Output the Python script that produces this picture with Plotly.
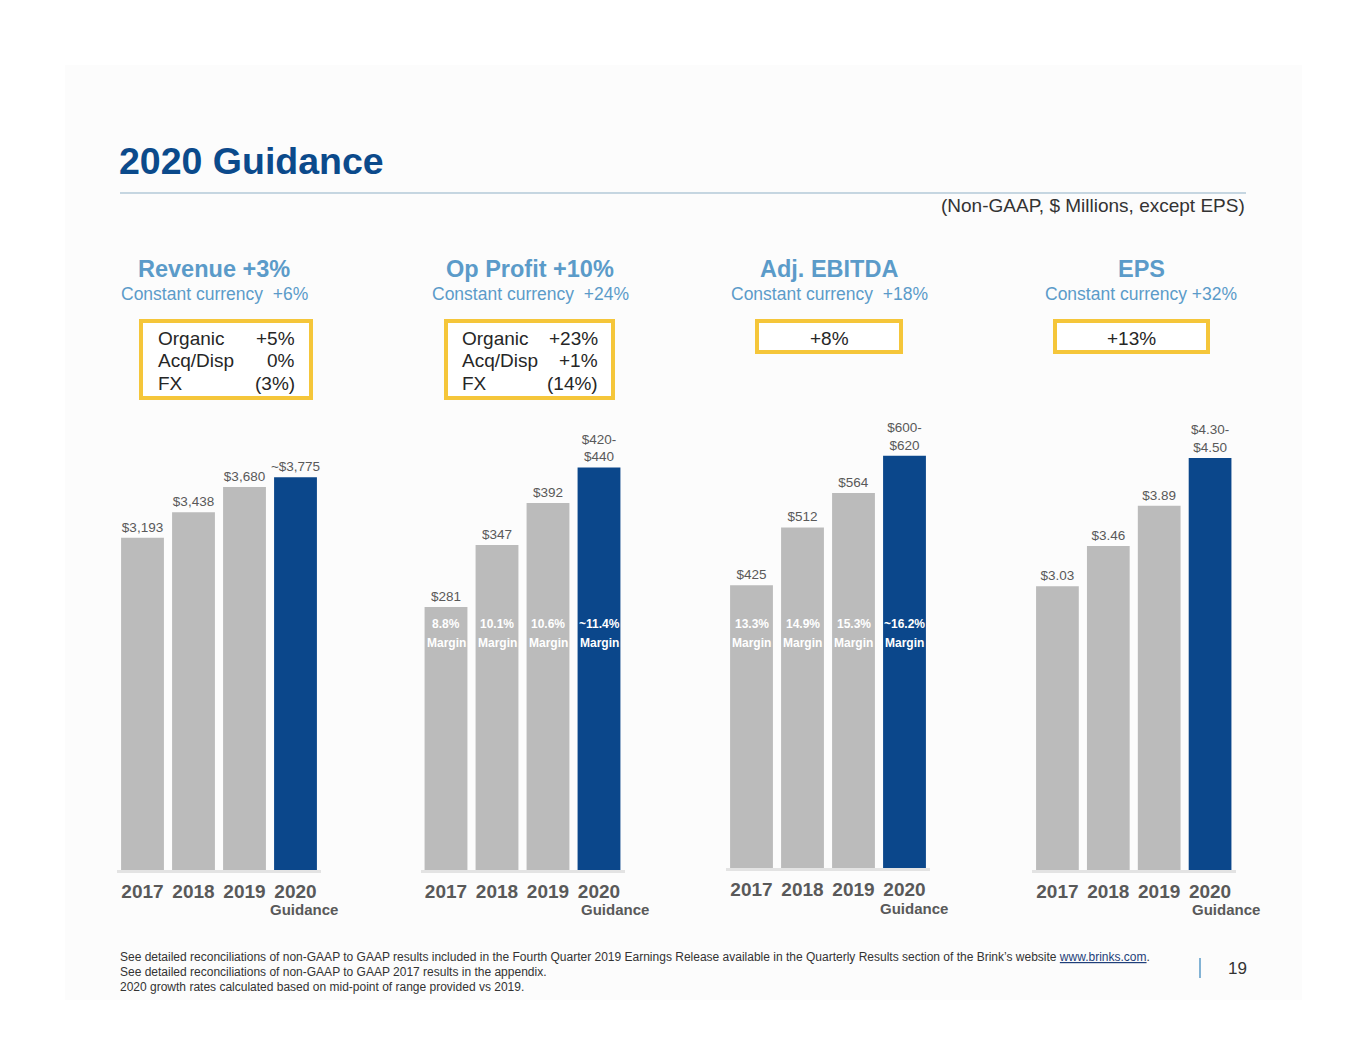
import plotly.graph_objects as go

W, H = 1365, 1055

years = ["2017", "2018", "2019", "2020"]
revenue = [3193, 3438, 3680, 3775]
revenue_labels = ["$3,193", "$3,438", "$3,680", "~$3,775"]
op_profit = [281, 347, 392, 430]
op_profit_labels = ["$281", "$347", "$392", "$420-<br>$440"]
op_margins = ["8.8%", "10.1%", "10.6%", "~11.4%"]
ebitda = [425, 512, 564, 620]
ebitda_labels = ["$425", "$512", "$564", "$600-<br>$620"]
ebitda_margins = ["13.3%", "14.9%", "15.3%", "~16.2%"]
eps = [3.03, 3.46, 3.89, 4.40]
eps_labels = ["$3.03", "$3.46", "$3.89", "$4.30-<br>$4.50"]

headers = ["Revenue +3%", "Op Profit +10%", "Adj. EBITDA", "EPS"]
subheads = ["Constant currency  +6%", "Constant currency  +24%",
            "Constant currency  +18%", "Constant currency +32%"]
rev_bridge = [("Organic", "+5%"), ("Acq/Disp", "0%"), ("FX", "(3%)")]
op_bridge = [("Organic", "+23%"), ("Acq/Disp", "+1%"), ("FX", "(14%)")]
ebitda_growth = "+8%"
eps_growth = "+13%"

GREY = "#bbbbbb"
BLUE = "#0b478b"
LIGHTBLUE = "#5b9bc9"
YELLOW = "#f5c63a"
FONT = "Arial, Liberation Sans, sans-serif"

OFF = 8  # the page body margin shifts everything by this much


def px(x):
    return (x - OFF) / W


def py(y):
    return 1 - (y - OFF) / H


# panel layout: (x0, x1, bottom, y range max)
panels = [
    (117, 321, 870, 4325),
    (420.5, 624.5, 870, 480.6),
    (726, 930, 868, 673.6),
    (1032, 1235.5, 870, 4.806),
]
series = [(revenue, revenue_labels), (op_profit, op_profit_labels),
          (ebitda, ebitda_labels), (eps, eps_labels)]
centers = [214, 530, 829, 1141]

fig = go.Figure()
layout = {}
for i, ((vals, labels), (x0, x1, bot, ymax)) in enumerate(zip(series, panels)):
    n = "" if i == 0 else str(i + 1)
    colors = [GREY, GREY, GREY, BLUE]
    fig.add_trace(go.Bar(
        x=years, y=vals, text=labels, textposition="outside",
        constraintext="none", cliponaxis=False,
        textfont=dict(size=13.5, color="#595959", family=FONT),
        marker=dict(color=colors, line_width=0),
        xaxis="x" + n, yaxis="y" + n, hoverinfo="skip", showlegend=False,
    ))
    layout["xaxis" + n] = dict(
        type="category", range=[-0.5, 3.5], automargin=False,
        domain=[px(x0), px(x1)], anchor="y" + n, showgrid=False,
        showline=True, linecolor="#e3e3e3", linewidth=3,
        ticks="outside", ticklen=2, tickcolor="rgba(0,0,0,0)",
        tickfont=dict(size=19, color="#595959", family=FONT),
        tickprefix="<b>", ticksuffix="</b>", fixedrange=True,
    )
    layout["yaxis" + n] = dict(
        domain=[py(bot), py(420)], anchor="x" + n, range=[0, ymax],
        visible=False, fixedrange=True, automargin=False,
    )

fig.update_layout(
    **layout,
    width=W, height=H,
    margin=dict(l=0, r=0, t=0, b=0, autoexpand=False),
    paper_bgcolor="white", plot_bgcolor="rgba(0,0,0,0)",
    bargap=0.16, font=dict(family=FONT, color="#333333"),
)

shapes = [
    dict(type="rect", xref="paper", yref="paper", x0=px(65), x1=px(1302),
         y0=py(1000), y1=py(65), fillcolor="#fcfcfc", line_width=0, layer="below"),
    dict(type="line", xref="paper", yref="paper", x0=px(120), x1=px(1246),
         y0=py(193), y1=py(193), line=dict(color="#8fb0c6", width=1)),
    dict(type="line", xref="paper", yref="paper", x0=px(1200), x1=px(1200),
         y0=py(958), y1=py(978), line=dict(color=LIGHTBLUE, width=1.5)),
]
# yellow boxes
for bx0, bx1, by0, by1 in [(141, 311, 321, 398), (446, 613, 321, 398),
                           (757, 901, 321, 352), (1055, 1208, 321, 352)]:
    shapes.append(dict(type="rect", xref="paper", yref="paper",
                       x0=px(bx0), x1=px(bx1), y0=py(by1), y1=py(by0),
                       fillcolor="white", line=dict(color=YELLOW, width=4)))
fig.update_layout(shapes=shapes)

ann = []


def text(x, y, s, size, color="#333333", xanchor="center", bold=False):
    ann.append(dict(x=px(x), y=py(y), xref="paper", yref="paper",
                    text=("<b>%s</b>" % s) if bold else s, showarrow=False,
                    xanchor=xanchor, yanchor="middle",
                    font=dict(size=size, color=color, family=FONT)))


text(117, 161, "2020 Guidance", 37.5, "#0b4a8b", "left", True)
text(1247, 206, "(Non-GAAP, $ Millions, except EPS)", 19, "#333333", "right")

for c, h, s in zip(centers, headers, subheads):
    text(c, 269, h, 23.5, LIGHTBLUE, bold=True)
    text(c, 294, s, 17.5, LIGHTBLUE)

for (lx, rx), bridge in [((156, 297), rev_bridge), ((460, 600), op_bridge)]:
    for k, (lab, val) in enumerate(bridge):
        yy = 338 + k * 22.5
        text(lx, yy, lab, 19, "#262626", "left")
        text(rx, yy, val, 19, "#262626", "right")
text(829, 338, ebitda_growth, 19, "#262626")
text(1131, 338, eps_growth, 19, "#262626")

# margin labels inside bars (x given as category index)
for n, margins in [("2", op_margins), ("3", ebitda_margins)]:
    for k, m in enumerate(margins):
        for yy, s in [(624, m), (643, "Margin")]:
            ann.append(dict(x=k, xref="x" + n, y=py(yy), yref="paper",
                            text="<b>%s</b>" % s, showarrow=False,
                            yanchor="middle",
                            font=dict(size=12, color="white", family=FONT)))

for gx, gy in [(304, 909), (615, 910), (914, 908), (1226, 910)]:
    text(gx, gy, "Guidance", 15, "#595959", bold=True)

foot = [
    "See detailed reconciliations of non-GAAP to GAAP results included in the Fourth Quarter 2019 "
    "Earnings Release available in the Quarterly Results section of the Brink\u2019s website "
    "<span style='color:#1f3f7a'><u>www.brinks.com</u></span>.",
    "See detailed reconciliations of non-GAAP to GAAP 2017 results in the appendix.",
    "2020 growth rates calculated based on mid-point of range provided vs 2019.",
]
for k, line in enumerate(foot):
    text(118, 957 + k * 15, line, 12, "#333333", "left")
text(1237, 968, "19", 17, "#333333")

fig.update_layout(annotations=ann)
fig.write_html("out.html")
